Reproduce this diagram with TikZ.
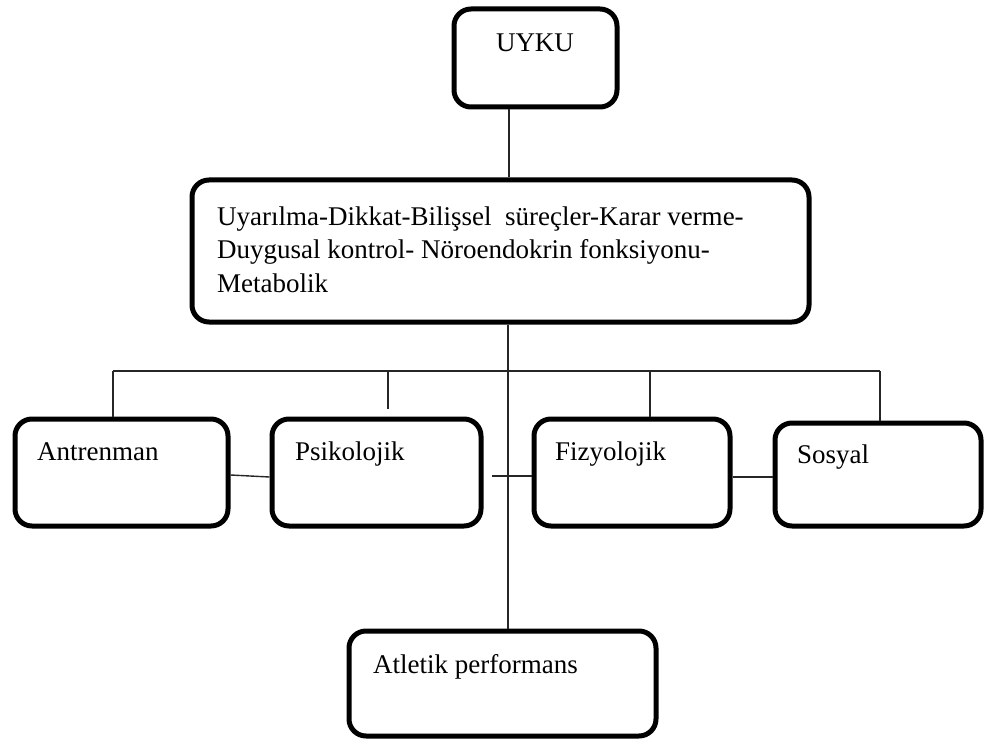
\documentclass[tikz,border=0pt]{standalone}
\usepackage{fontspec}
\setmainfont{Liberation Serif}
\begin{document}
\begin{tikzpicture}[x=1pt,y=-1pt,
  box/.style={draw=black, line width=5pt, rounded corners=17pt, inner sep=0pt, fill=white},
  lbl/.style={inner sep=0pt, font=\fontsize{27}{33.5}\selectfont},
  conn/.style={draw=black!85, line width=1.4pt}]
\useasboundingbox[fill=white] (0,0) rectangle (987,746);

% boxes
\node[box, minimum width=163pt, minimum height=98pt] (uyku) at (535.5,58) {};
\node[box, minimum width=617pt, minimum height=142pt] (big) at (500.5,251) {};
\node[box, minimum width=213pt, minimum height=107pt] (antrenman) at (121.5,472.5) {};
\node[box, minimum width=209pt, minimum height=107pt] (psikolojik) at (376.5,472.5) {};
\node[box, minimum width=196pt, minimum height=107pt] (fizyolojik) at (632,472.5) {};
\node[box, minimum width=206pt, minimum height=103pt] (sosyal) at (878,474.5) {};
\node[box, minimum width=307pt, minimum height=105pt] (atletik) at (502.5,683.5) {};

% texts
\node[lbl, anchor=base] (tuyku) at (535,52) {UYKU};
\node[lbl, anchor=north west, align=left] (tbig) at (217,206.5)
  {Uyarılma-Dikkat-Bilişsel\ \ süreçler-Karar verme-\\Duygusal kontrol- Nöroendokrin fonksiyonu-\\Metabolik};
\node[lbl, anchor=base west] (tantrenman) at (37,460) {Antrenman};
\node[lbl, anchor=base west] (tpsikolojik) at (295,460) {Psikolojik};
\node[lbl, anchor=base west] (tfizyolojik) at (555,460) {Fizyolojik};
\node[lbl, anchor=base west] (tsosyal) at (797,463) {Sosyal};
\node[lbl, anchor=base west] (tatletik) at (373,673) {Atletik performans};

% connectors
\coordinate (busL) at (113,371);
\coordinate (busR) at (880,371);
\coordinate (busP) at (388,371);
\coordinate (pstub) at (388,409);
\coordinate (busF) at (650,371);
\coordinate (cstub) at (492,476);

\draw[conn] (509,0 |- uyku.south) -- (509,0 |- big.north);
\draw[conn] (508,0 |- big.south) -- (508,0 |- atletik.north);
\draw[conn] (busL) -- (busR);
\draw[conn] (busL) -- (busL |- antrenman.north);
\draw[conn] (busP) -- (pstub);
\draw[conn] (busF) -- (busF |- fizyolojik.north);
\draw[conn] (busR) -- (busR |- sosyal.north);
\draw[conn] (antrenman.east |- 0,475) -- (psikolojik.west |- 0,477);
\draw[conn] (cstub) -- (cstub -| fizyolojik.west);
\draw[conn] (fizyolojik.east |- 0,477) -- (sosyal.west |- 0,477);
\end{tikzpicture}
\end{document}
